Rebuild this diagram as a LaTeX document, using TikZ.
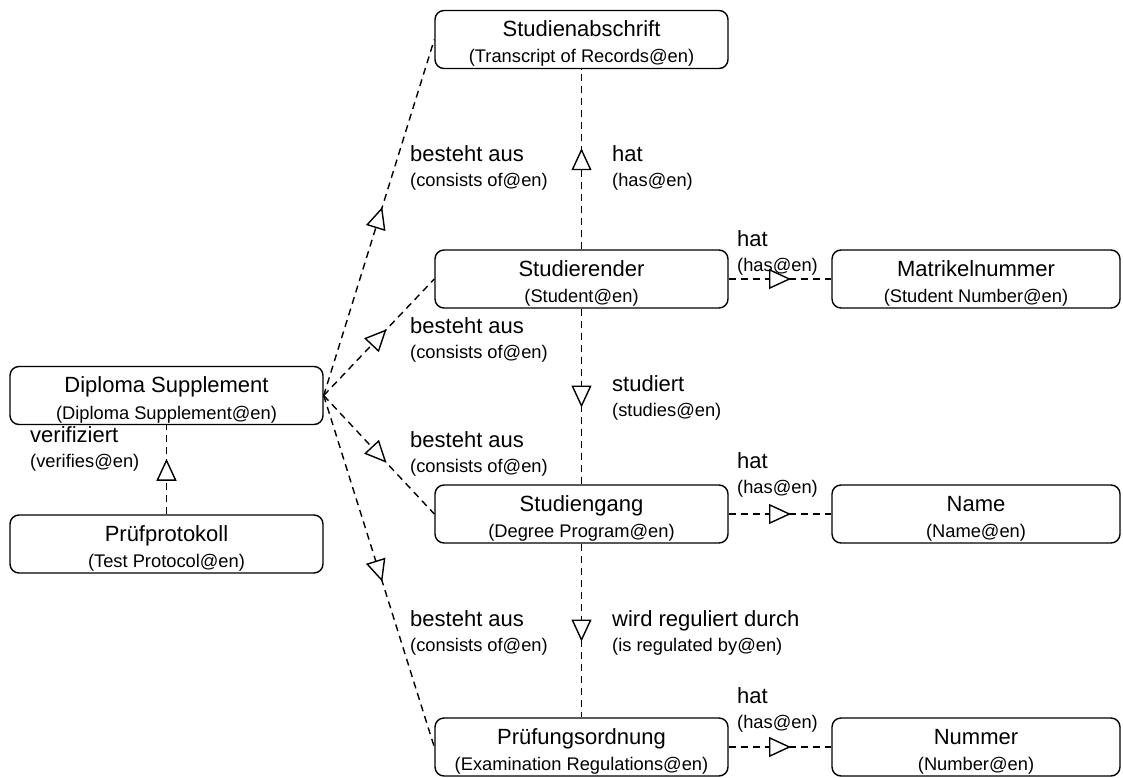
\documentclass[tikz,border=0pt]{standalone}
\usepackage{fontspec}
\setmainfont{Liberation Sans}
\usetikzlibrary{arrows.meta,decorations.markings}
\newcommand\secll[1]{{\fontsize{18.3}{25}\selectfont #1}}
\newcommand\twol[2]{\vtop{\baselineskip=26.5pt\halign{\hfil##\hfil\cr #1\cr \fontsize{18.3}{26.5}\selectfont #2\cr}}}
\begin{document}
\begin{tikzpicture}[x=1pt,y=-1pt,
  box/.style={draw, line width=1.4pt, rounded corners=9pt, minimum height=58pt,
    inner sep=0pt, text height=26pt, text depth=32pt, font=\fontsize{22}{26.5}\selectfont},
  wbox/.style={box, minimum width=293pt},
  dbox/.style={box, minimum width=313pt},
  rbox/.style={box, minimum width=288pt},
  lbl/.style={anchor=north west, inner sep=0pt, align=left, font=\fontsize{22}{25}\selectfont},
  rel/.style={line width=1.4pt, dash pattern=on 7pt off 5pt, postaction={decorate},
    decoration={markings, mark=at position 0.5 with
      {\arrow[xshift=11pt]{Triangle[length=22pt,width=20pt,fill=white,line width=1.4pt]}}}}
]
\useasboundingbox (0,0) rectangle (1123,778);

\node[wbox] (SA) at (581.5,39.5) {\twol{Studienabschrift}{(Transcript of Records@en)}};
\node[wbox] (ST) at (581.5,279) {\twol{Studierender}{(Student@en)}};
\node[wbox] (SG) at (581.5,514) {\twol{Studiengang}{(Degree Program@en)}};
\node[wbox] (PO) at (581.5,747) {\twol{Prüfungsordnung}{(Examination Regulations@en)}};
\node[dbox] (DS) at (166.5,395.5) {\twol{Diploma Supplement}{(Diploma Supplement@en)}};
\node[dbox] (PP) at (166.5,544) {\twol{Prüfprotokoll}{(Test Protocol@en)}};
\node[rbox] (MN) at (976,279) {\twol{Matrikelnummer}{(Student Number@en)}};
\node[rbox] (NA) at (976,514) {\twol{Name}{(Name@en)}};
\node[rbox] (NU) at (976,747) {\twol{Nummer}{(Number@en)}};

\draw[rel] (DS.east) -- (SA.west);
\draw[rel] (DS.east) -- (ST.west);
\draw[rel] (DS.east) -- (SG.west);
\draw[rel] (DS.east) -- (PO.west);
\draw[rel] (PP) -- (DS);
\draw[rel] (ST) -- (SA);
\draw[rel] (ST) -- (SG);
\draw[rel] (SG) -- (PO);
\draw[rel] (ST) -- (MN);
\draw[rel] (SG) -- (NA);
\draw[rel] (PO) -- (NU);

\node[lbl] (l1) at (410,145) {besteht aus\\\secll{(consists of@en)}};
\node[lbl] (l2) at (410,317) {besteht aus\\\secll{(consists of@en)}};
\node[lbl] (l3) at (410,431) {besteht aus\\\secll{(consists of@en)}};
\node[lbl] (l4) at (410,610) {besteht aus\\\secll{(consists of@en)}};
\node[lbl] (l5) at (612,145) {hat\\\secll{(has@en)}};
\node[lbl] (l6) at (612,375) {studiert\\\secll{(studies@en)}};
\node[lbl] (l7) at (612,610) {wird reguliert durch\\\secll{(is regulated by@en)}};
\node[lbl] (l8) at (737,230) {hat\\\secll{(has@en)}};
\node[lbl] (l9) at (737,452) {hat\\\secll{(has@en)}};
\node[lbl] (l10) at (737,687) {hat\\\secll{(has@en)}};
\node[lbl] (l11) at (30,426) {verifiziert\\\secll{(verifies@en)}};
\end{tikzpicture}
\end{document}
